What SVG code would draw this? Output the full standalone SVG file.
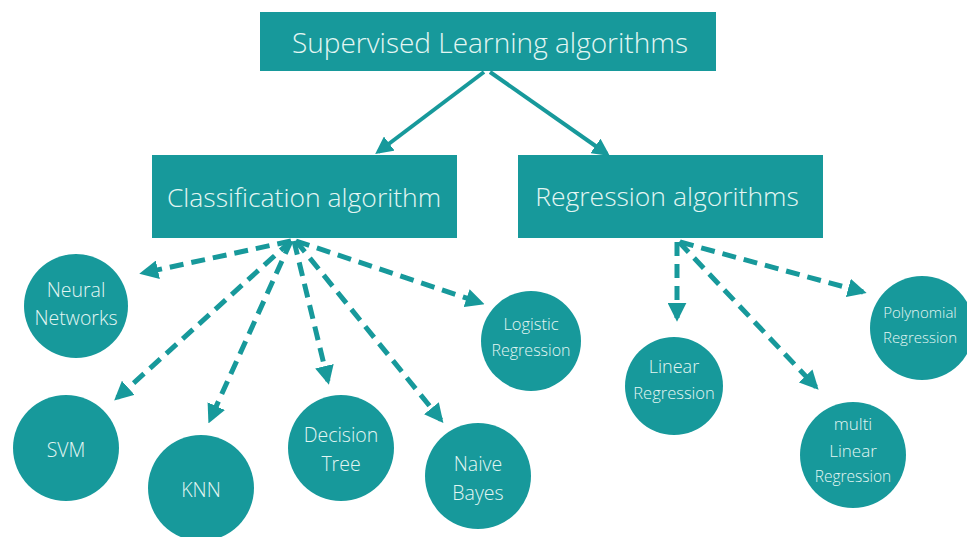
<svg xmlns="http://www.w3.org/2000/svg" width="967" height="537" viewBox="0 0 967 537">
<style>
.box{fill:#17999b}
.node{fill:#17999b}
.t{font-family:"Open Sans","Liberation Sans",sans-serif;font-weight:300;fill:#e3f6f3;text-anchor:middle}
.solid{stroke:#17999b;stroke-width:4;fill:none}
.dash{stroke:#17999b;stroke-width:5;fill:none;stroke-dasharray:14 8}
</style>
<defs>
<marker id="ah" viewBox="0 0 10 10" refX="8" refY="5" markerWidth="4.4" markerHeight="4.4" orient="auto" markerUnits="strokeWidth">
<path d="M0,0 L10,5 L0,10 Z" fill="#17999b"/>
</marker>
<marker id="ah2" viewBox="0 0 10 10" refX="8" refY="5" markerWidth="3.8" markerHeight="3.8" orient="auto" markerUnits="strokeWidth">
<path d="M0,0 L10,5 L0,10 Z" fill="#17999b"/>
</marker>
</defs>
<rect width="967" height="537" fill="#ffffff"/>
<g id="connectors">
<line class="solid" x1="484" y1="72" x2="378" y2="152" marker-end="url(#ah)"/>
<line class="solid" x1="490" y1="72" x2="607" y2="154" marker-end="url(#ah)"/>
<line class="dash" x1="291" y1="241" x2="143" y2="273" marker-end="url(#ah2)"/>
<line class="dash" x1="291" y1="241" x2="117" y2="398" marker-end="url(#ah2)"/>
<line class="dash" x1="291" y1="241" x2="210" y2="420" marker-end="url(#ah2)"/>
<line class="dash" x1="294" y1="241" x2="328" y2="381" marker-end="url(#ah2)"/>
<line class="dash" x1="296" y1="241" x2="441" y2="420" marker-end="url(#ah2)"/>
<line class="dash" x1="296" y1="241" x2="481" y2="303" marker-end="url(#ah2)"/>
<line class="dash" x1="677" y1="242" x2="677" y2="318" marker-end="url(#ah2)"/>
<line class="dash" x1="679" y1="242" x2="816" y2="387" marker-end="url(#ah2)"/>
<line class="dash" x1="680" y1="242" x2="863" y2="292" marker-end="url(#ah2)"/>
</g>
<g id="supervised">
<rect class="box" x="260" y="12" width="456" height="59"/>
<text class="t" x="490" y="53" font-size="28">Supervised Learning algorithms</text>
</g>
<g id="classification">
<rect class="box" x="152" y="155" width="305" height="83"/>
<text class="t" x="304" y="207" font-size="26.5">Classification algorithm</text>
</g>
<g id="regression">
<rect class="box" x="518" y="155" width="305" height="83"/>
<text class="t" x="667" y="206" font-size="26.5">Regression algorithms</text>
</g>
<g id="neural">
<circle class="node" cx="76" cy="306" r="52"/>
<text class="t" x="76" y="297" font-size="19.5">Neural</text>
<text class="t" x="76" y="325" font-size="19.5">Networks</text>
</g>
<g id="svm">
<circle class="node" cx="66" cy="448" r="53"/>
<text class="t" x="66" y="457" font-size="19.5">SVM</text>
</g>
<g id="knn">
<circle class="node" cx="201" cy="488" r="53"/>
<text class="t" x="201" y="497" font-size="19.5">KNN</text>
</g>
<g id="decision">
<circle class="node" cx="341" cy="448" r="53"/>
<text class="t" x="341" y="442" font-size="19.5">Decision</text>
<text class="t" x="341" y="471" font-size="19.5">Tree</text>
</g>
<g id="naive">
<circle class="node" cx="478" cy="476" r="53"/>
<text class="t" x="478" y="471" font-size="19.5">Naive</text>
<text class="t" x="478" y="500" font-size="19.5">Bayes</text>
</g>
<g id="logistic">
<circle class="node" cx="531" cy="341" r="50"/>
<text class="t" x="531" y="330" font-size="16.5">Logistic</text>
<text class="t" x="531" y="356" font-size="16">Regression</text>
</g>
<g id="linear">
<circle class="node" cx="674" cy="386" r="49"/>
<text class="t" x="674" y="373" font-size="18">Linear</text>
<text class="t" x="674" y="399" font-size="16.5">Regression</text>
</g>
<g id="multi">
<circle class="node" cx="853" cy="455" r="53"/>
<text class="t" x="853" y="430" font-size="17">multi</text>
<text class="t" x="853" y="457" font-size="17">Linear</text>
<text class="t" x="853" y="482" font-size="15.5">Regression</text>
</g>
<g id="polynomial">
<circle class="node" cx="922" cy="328" r="52"/>
<text class="t" x="920" y="318" font-size="15">Polynomial</text>
<text class="t" x="920" y="343" font-size="15">Regression</text>
</g>
</svg>
